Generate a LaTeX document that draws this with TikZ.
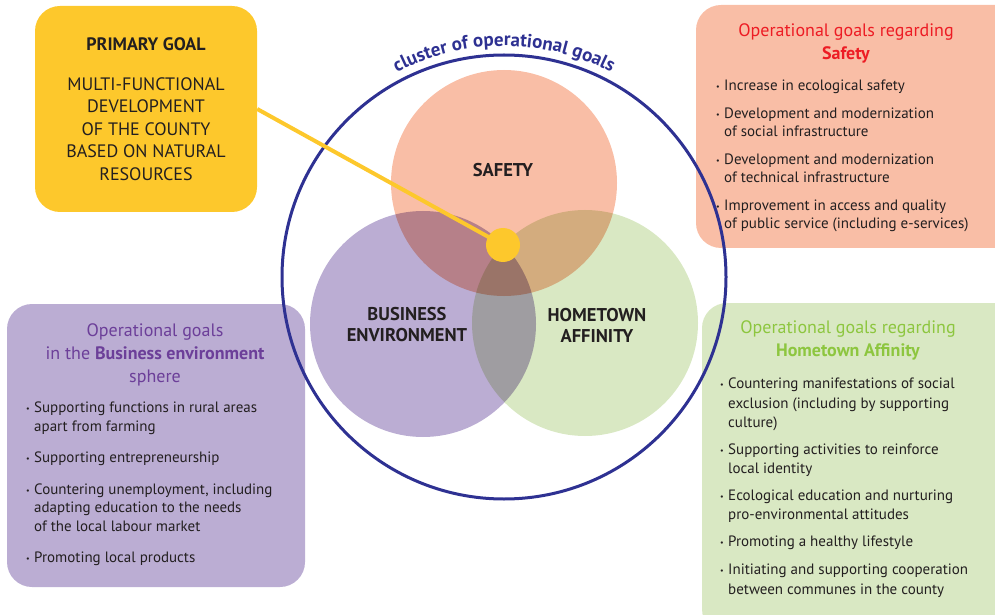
\documentclass[tikz,border=0pt]{standalone}
\usepackage{fontspec}
\setmainfont{PT Sans}
\usetikzlibrary{decorations.text}
\definecolor{primfill}{HTML}{FDC82C}
\definecolor{safefill}{HTML}{F9BEA6}
\definecolor{busfill}{HTML}{BBADD3}
\definecolor{homefill}{HTML}{D9E8C3}
\definecolor{clusterblue}{HTML}{2E3192}
\definecolor{darktext}{HTML}{231F20}
\definecolor{safered}{HTML}{ED1C24}
\definecolor{buspurple}{HTML}{6C3F99}
\definecolor{homegreen}{HTML}{8DC63F}
\newcommand{\gb}{\makebox[8pt][l]{\raisebox{1.2pt}{\fontsize{8}{8}\selectfont\textbullet}}}
\newcommand{\gi}{\hspace*{8pt}}

\begin{document}
\begin{tikzpicture}[x=1pt, y=1pt,
  goal box/.style={rectangle, rounded corners=25pt, inner sep=0pt},
  venn circle/.style={circle, inner sep=0pt, minimum size=226pt},
  circle label/.style={font=\fontsize{18.5}{21}\selectfont\bfseries, text=darktext, align=center},
  title text/.style={font=\fontsize{18}{23}\selectfont, align=center, anchor=north, inner sep=0pt},
  list text/.style={font=\fontsize{15}{18.5}\selectfont, text=darktext, align=left, anchor=north west, inner sep=0pt}]
  \useasboundingbox (0,0) rectangle (995,614);
  \clip (0,0) rectangle (995,614);

  % boxes
  \node[goal box, fill=primfill, minimum width=222pt, minimum height=206pt, align=center,
        font=\fontsize{18}{22.5}\selectfont, text=darktext] (primary) at (146,505)
        {\textbf{PRIMARY GOAL}\\[17pt] MULTI-FUNCTIONAL\\ DEVELOPMENT\\ OF THE COUNTY\\ BASED ON NATURAL\\ RESOURCES};
  \node[goal box, fill=safefill, minimum width=324pt, minimum height=243pt] (safetybox) at (858,487.5) {};
  \node[goal box, fill=busfill, minimum width=298pt, minimum height=283pt] (businessbox) at (156,168.5) {};
  \node[goal box, fill=homefill, minimum width=318pt, minimum height=331pt] (hometownbox) at (861,145.5) {};

  % venn
  \begin{scope}[blend group=multiply]
    \node[venn circle, fill=safefill] (safety) at (504,431) {};
    \node[venn circle, fill=busfill] (business) at (423,290) {};
    \node[venn circle, fill=homefill] (hometown) at (585,291) {};
  \end{scope}
  \node[circle, draw=clusterblue, line width=3pt, minimum size=444pt, inner sep=0pt] (cluster) at (504,337) {};
  \path[decorate, decoration={text along path, text align=center,
        text={|\color{clusterblue}\fontsize{19}{19}\selectfont\bfseries|cluster of operational goals}}]
    ([shift={(128:231)}]cluster.center) arc (128:52:231);

  % primary goal link
  \coordinate (hub) at (503,369);
  \draw[primfill, line width=4pt] (primary.east) -- (hub);
  \node[circle, fill=primfill, minimum size=34pt, inner sep=0pt] (dot) at (hub) {};

  \node[circle label] (safetylabel) at (503,444) {SAFETY};
  \node[circle label] (businesslabel) at (407,289) {BUSINESS\\ENVIRONMENT};
  \node[circle label] (hometownlabel) at (597,289) {HOMETOWN\\AFFINITY};

  % safety goals
  \node[title text, text=safered] (safetytitle) at (846,591) {Operational goals regarding\\\textbf{Safety}};
  \node[list text] (safetylist) at (716,534)
    {\gb Increase in ecological safety\\[9pt]
     \gb Development and modernization\\ \gi of social infrastructure\\[9pt]
     \gb Development and modernization\\ \gi of technical infrastructure\\[9pt]
     \gb Improvement in access and quality\\ \gi of public service (including e-services)};

  % business goals
  \node[title text, text=buspurple] (businesstitle) at (155,291)
    {Operational goals\\ in the \textbf{Business environment}\\ sphere};
  \node[list text] (businesslist) at (26,212)
    {\gb Supporting functions in rural areas\\ \gi apart from farming\\[13pt]
     \gb Supporting entrepreneurship\\[13pt]
     \gb Countering unemployment, including\\ \gi adapting education to the needs\\ \gi of the local labour market\\[13pt]
     \gb Promoting local products};

  % hometown goals
  \node[title text, text=homegreen] (hometowntitle) at (848,294)
    {Operational goals regarding\\\textbf{Hometown Affinity}};
  \node[list text, font=\fontsize{15}{19.5}\selectfont] (hometownlist) at (720,236)
    {\gb Countering manifestations of social\\ \gi exclusion (including by supporting\\ \gi culture)\\[7pt]
     \gb Supporting activities to reinforce\\ \gi local identity\\[7pt]
     \gb Ecological education and nurturing\\ \gi pro-environmental attitudes\\[7pt]
     \gb Promoting a healthy lifestyle\\[9pt]
     \gb Initiating and supporting cooperation\\ \gi between communes in the county};
\end{tikzpicture}
\end{document}
